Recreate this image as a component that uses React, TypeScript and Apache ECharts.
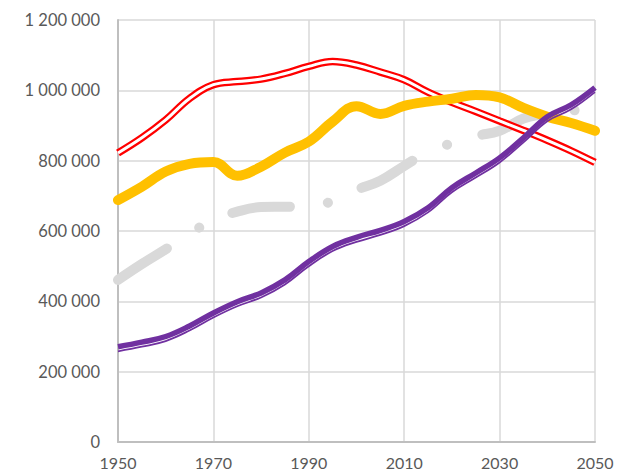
import React, { useEffect, useRef } from "react";
import * as echarts from "echarts";

const years = [1950, 1955, 1960, 1965, 1970, 1975, 1980, 1985, 1990, 1995, 2000, 2005, 2010, 2015, 2020, 2025, 2030, 2035, 2040, 2045, 2050];
const redValues = [822000, 865000, 916000, 977000, 1016000, 1025000, 1032000, 1048000, 1068000, 1082000, 1072000, 1052000, 1030000, 995000, 966000, 940000, 913000, 886000, 858000, 828000, 795000];
const yellowValues = [688000, 726000, 769000, 791000, 796000, 757000, 783000, 823000, 854000, 911000, 955000, 933000, 956000, 968000, 976000, 987000, 980000, 950000, 925000, 907000, 885000];
const greyValues = [461000, 506000, 548000, 592000, 632000, 655000, 668000, 669000, 671000, 685000, 717000, 743000, 785000, 825000, 850000, 870000, 885000, 920000, 933000, 942000, 950000];
const purpleValues = [271000, 284000, 300000, 330000, 367000, 399000, 424000, 461000, 513000, 556000, 582000, 602000, 627000, 666000, 723000, 765000, 808000, 865000, 925000, 959000, 1008000];
const purpleInnerOffset = 13000;
const xTicks = [1950, 1970, 1990, 2010, 2030, 2050];
const yTicks = [0, 200000, 400000, 600000, 800000, 1000000, 1200000];

const pairs = (vals: number[]) => years.map((y, i) => [y, vals[i]]);
const fmt = (v: number) => String(v).replace(/\B(?=(\d{3})+(?!\d))/g, " ");

export default function App() {
  const ref = useRef<HTMLDivElement>(null);
  useEffect(() => {
    if (!ref.current) return;
    document.body.style.margin = "0";
    const chart = echarts.init(ref.current, undefined, { renderer: "svg" });
    const font = "Lato, 'Open Sans', sans-serif";
    chart.setOption({
      animation: false,
      backgroundColor: "#ffffff",
      grid: { left: 118, right: 23, top: 20, bottom: 32, containLabel: false },
      xAxis: {
        type: "value",
        min: xTicks[0],
        max: xTicks[xTicks.length - 1],
        interval: 20,
        axisLine: { show: true, lineStyle: { color: "#bfbfbf", width: 2 } },
        axisTick: { show: false },
        splitLine: { show: true, lineStyle: { color: "#d9d9d9", width: 1.5 } },
        axisLabel: { color: "#595959", fontSize: 16, fontFamily: font, margin: 12, formatter: (v: number) => String(v) },
      },
      yAxis: {
        type: "value",
        min: yTicks[0],
        max: yTicks[yTicks.length - 1],
        interval: 200000,
        axisLine: { show: true, lineStyle: { color: "#bfbfbf", width: 2 } },
        axisTick: { show: false },
        splitLine: { show: true, lineStyle: { color: "#d9d9d9", width: 1.5 } },
        axisLabel: { color: "#595959", fontSize: 16.5, fontFamily: font, margin: 18, formatter: (v: number) => fmt(v) },
      },
      series: [
        {
          type: "line", name: "grey", data: pairs(greyValues), smooth: 0.4, showSymbol: false, z: 1,
          lineStyle: { color: "#d9d9d9", width: 10, cap: "round", type: [58, 38.5, 0.1, 36.5], dashOffset: 0 },
        },
        {
          type: "line", name: "red", data: pairs(redValues), smooth: 0.4, showSymbol: false, z: 2,
          lineStyle: { color: "#ff0000", width: 7.5 },
        },
        {
          type: "line", name: "redInner", data: pairs(redValues), smooth: 0.4, showSymbol: false, z: 3,
          lineStyle: { color: "#ffffff", width: 3 },
        },
        {
          type: "line", name: "yellow", data: pairs(yellowValues), smooth: 0.4, showSymbol: false, z: 4,
          lineStyle: { color: "#ffc000", width: 10, cap: "round" },
        },
        {
          type: "line", name: "purpleThin", data: pairs(purpleValues.map((v) => v - purpleInnerOffset)), smooth: 0.4, showSymbol: false, z: 5,
          lineStyle: { color: "#7030a0", width: 1.8 },
        },
        {
          type: "line", name: "purple", data: pairs(purpleValues), smooth: 0.4, showSymbol: false, z: 6,
          lineStyle: { color: "#7030a0", width: 5.5 },
        },
      ],
    });
    return () => chart.dispose();
  }, []);
  return <div ref={ref} style={{ width: 618, height: 474 }} />;
}
